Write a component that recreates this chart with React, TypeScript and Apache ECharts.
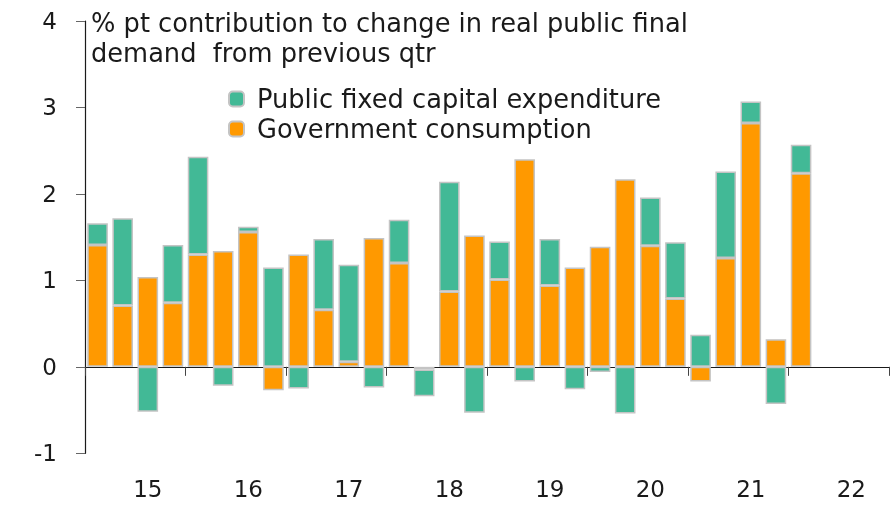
import React, { useEffect, useRef } from "react";
import * as echarts from "echarts";

const years = ["15", "16", "17", "18", "19", "20", "21", "22"];
const quarterNames = ["Q1", "Q2", "Q3", "Q4"];
const categories = years.flatMap((y) => quarterNames.map((q) => `${q}-${y}`));

// % pt contributions, 2015 Q1 .. 2022 Q1
const govConsumption = [
  1.41, 0.71, 1.04, 0.74, 1.3, 1.34, 1.56, -0.27,
  1.3, 0.66, 0.06, 1.49, 1.2, -0.03, 0.87, 1.52,
  1.01, 2.4, 0.94, 1.15, 1.39, 2.17, 1.4, 0.79,
  -0.17, 1.26, 2.82, 0.32, 2.24,
];
const publicCapex = [
  0.25, 1.01, -0.52, 0.67, 1.13, -0.22, 0.06, 1.15,
  -0.25, 0.82, 1.12, -0.24, 0.5, -0.31, 1.27, -0.53,
  0.44, -0.17, 0.54, -0.26, -0.06, -0.54, 0.56, 0.65,
  0.37, 1.0, 0.25, -0.43, 0.33,
];

const titleText = "% pt contribution to change in real public final\ndemand  from previous qtr";
const capexName = "Public fixed capital expenditure";
const govName = "Government consumption";

const FONT = "DejaVu Sans";
const GREEN = "#42B996";
const ORANGE = "#FF9900";
const BORDER = "#C4C4C4";

export default function App() {
  const ref = useRef<HTMLDivElement>(null);
  useEffect(() => {
    if (!ref.current) return;
    const chart = echarts.init(ref.current, null, { renderer: "svg" });
    chart.setOption({
      animation: false,
      textStyle: { fontFamily: FONT },
      title: {
        text: titleText,
        left: 86,
        top: 3,
        textStyle: { fontFamily: FONT, fontSize: 25.7, fontWeight: "normal", color: "#1a1a1a", lineHeight: 30 },
      },
      legend: {
        orient: "vertical",
        left: 223,
        top: 81,
        itemWidth: 15,
        itemHeight: 15,
        itemGap: 4,
        data: [capexName, govName],
        textStyle: { fontFamily: FONT, fontSize: 25.7, color: "#1a1a1a", padding: [0, 0, 0, 8] },
      },
      grid: { left: 85, right: 3, top: 21, bottom: 52.7, containLabel: false },
      xAxis: [
        {
          type: "category",
          data: categories,
          axisLine: { onZero: true, lineStyle: { color: "#1a1a1a", width: 1.2 } },
          axisTick: { show: true, length: 9, interval: (i: number) => i % 4 === 0, lineStyle: { color: "#444" } },
          axisLabel: { show: false },
        },
        {
          type: "category",
          data: categories,
          position: "bottom",
          axisLine: { show: false, onZero: false },
          axisTick: { show: false },
          axisLabel: {
            show: true,
            interval: (i: number) => i % 4 === 2,
            formatter: (v: string) => v.split("-")[1],
            margin: 24,
            fontSize: 23,
            color: "#1a1a1a",
            fontFamily: FONT,
          },
        },
      ],
      yAxis: {
        type: "value",
        min: -1,
        max: 4,
        interval: 1,
        splitLine: { show: false },
        axisLine: { show: true, lineStyle: { color: "#1a1a1a", width: 1.2 } },
        axisTick: { show: true, length: 9, lineStyle: { color: "#666" } },
        axisLabel: { margin: 28, fontSize: 23, color: "#1a1a1a", fontFamily: FONT },
      },
      series: [
        {
          name: govName,
          type: "bar",
          stack: "total",
          xAxisIndex: 0,
          data: govConsumption,
          barCategoryGap: "18%",
          itemStyle: { color: ORANGE, borderColor: BORDER, borderWidth: 1.5 },
        },
        {
          name: capexName,
          type: "bar",
          stack: "total",
          xAxisIndex: 0,
          data: publicCapex,
          barCategoryGap: "18%",
          itemStyle: { color: GREEN, borderColor: BORDER, borderWidth: 1.5 },
        },
      ],
    });
    return () => chart.dispose();
  }, []);
  return <div ref={ref} style={{ position: "fixed", left: 0, top: 0, width: 892, height: 506 }} />;
}
